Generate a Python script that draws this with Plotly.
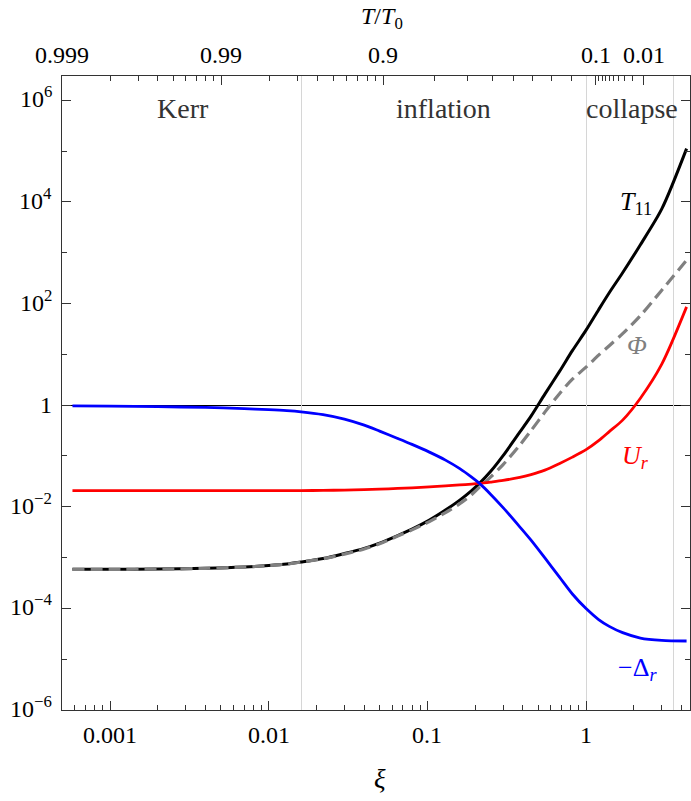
import numpy as np
import plotly.graph_objects as go

# ---------------- data ----------------
xi = [0.00058, 0.001, 0.002, 0.004, 0.007, 0.01, 0.013, 0.016, 0.022, 0.03, 0.04, 0.05,
      0.065, 0.08, 0.103, 0.13, 0.16, 0.19, 0.213, 0.25, 0.3, 0.382, 0.45, 0.55, 0.682,
      0.82, 1.0, 1.2, 1.4, 1.7, 2.2, 3.0, 4.3]

minus_delta_r = [0.968, 0.955, 0.934, 0.901, 0.853, 0.815, 0.779, 0.738, 0.650, 0.531, 0.404, 0.308,
                 0.221, 0.169, 0.119, 0.0828, 0.0563, 0.0383, 0.0288, 0.0177, 0.00962, 0.00403, 0.00220,
                 9.82e-4, 4.07e-4, 1.92e-4, 9.9e-5, 6.03e-5, 4.43e-5, 3.33e-5, 2.61e-5, 2.35e-5, 2.28e-5]

u_r = [0.0208, 0.0208, 0.0208, 0.0208, 0.0208, 0.0208, 0.0208, 0.0208, 0.0210, 0.0213, 0.0218, 0.0222,
       0.0230, 0.0236, 0.0247, 0.0257, 0.0269, 0.0279, 0.0288, 0.0306, 0.0330, 0.0378, 0.0430,
       0.0526, 0.0713, 0.0948, 0.133, 0.200, 0.301, 0.507, 1.37, 6.41, 85.9]

t11 = [5.86e-4, 5.86e-4, 5.94e-4, 6.13e-4, 6.50e-4, 6.95e-4, 7.44e-4, 8.15e-4, 9.55e-4, 1.20e-3, 1.52e-3, 1.93e-3,
       2.71e-3, 3.63e-3, 5.47e-3, 8.60e-3, 0.0135, 0.0208, 0.0288, 0.0492, 0.1014, 0.294, 0.608,
       1.65, 4.67, 11.8, 29.9, 75.7, 163.0, 404.0, 1438.0, 7278.0, 1.12e5]

phi = [5.86e-4, 5.86e-4, 5.94e-4, 6.13e-4, 6.50e-4, 6.95e-4, 7.44e-4, 8.12e-4, 9.46e-4, 1.17e-3, 1.47e-3, 1.87e-3,
       2.65e-3, 3.51e-3, 5.11e-3, 7.68e-3, 0.0115, 0.0173, 0.0244, 0.0383, 0.0675, 0.163, 0.315,
       0.728, 1.70, 3.25, 5.59, 9.63, 14.8, 25.5, 57.7, 183.0, 713.0]

# axis ticks
x_major = [0.001, 0.01, 0.1, 1]
x_major_text = ["0.001", "0.01", "0.1", "1"]
y_major_exp = [-6, -4, -2, 0, 2, 4, 6]
y_minor_exp = [-5, -3, -1, 1, 3, 5]
# top axis: T/T0 = exp(-2 xi)
t_major = [0.999, 0.99, 0.9, 0.1, 0.01]
t_major_text = ["0.999", "0.99", "0.9", "0.1", "0.01"]
t_minor = [0.998, 0.997, 0.996, 0.995, 0.994, 0.993, 0.992, 0.991,
           0.98, 0.97, 0.96, 0.95, 0.94, 0.93, 0.92, 0.91,
           0.8, 0.7, 0.6, 0.5, 0.4, 0.3, 0.2,
           0.09, 0.08, 0.07, 0.06, 0.05, 0.04, 0.03, 0.02]
region_bounds = [0.016, 1.0, 3.55]
region_labels = ["Kerr", "inflation", "collapse"]
region_centres = [0.00287, 0.127, 1.94]

# ---------------- figure ----------------
FONT = "Times New Roman"
XR = [-3.3025, 0.655]
YR = [-6, 6.478]

fig = go.Figure()

line_common = dict(shape="spline", smoothing=0.8)
fig.add_trace(go.Scatter(x=xi, y=t11, mode="lines", line=dict(color="black", width=3, **line_common),
                         hoverinfo="skip", showlegend=False))
fig.add_trace(go.Scatter(x=xi, y=phi, mode="lines",
                         line=dict(color="#808080", width=3.2, dash="12px,6px", **line_common),
                         hoverinfo="skip", showlegend=False))
fig.add_trace(go.Scatter(x=xi, y=u_r, mode="lines", line=dict(color="#ff0000", width=2.8, **line_common),
                         hoverinfo="skip", showlegend=False))
fig.add_trace(go.Scatter(x=xi, y=minus_delta_r, mode="lines",
                         line=dict(color="#0000ff", width=2.8, **line_common),
                         hoverinfo="skip", showlegend=False))

# invisible traces binding the overlay axes (minor ticks, grid lines)
for xa, ya in [("x2", "y"), ("x3", "y"), ("x4", "y"), ("x5", "y"), ("x", "y2"), ("x", "y3")]:
    fig.add_trace(go.Scatter(x=[0.01], y=[1], xaxis=xa, yaxis=ya, mode="markers",
                             marker=dict(opacity=0), hoverinfo="skip", showlegend=False))

common_x = dict(type="log", range=XR, showgrid=False, zeroline=False, automargin=False)

t_major_xi = [-np.log(t) / 2 for t in t_major]
t_minor_xi = [-np.log(t) / 2 for t in t_minor]
x_minor = [m * 10.0 ** e for e in range(-4, 1) for m in range(2, 10)]
x_minor = [v for v in x_minor if 10 ** XR[0] < v < 10 ** XR[1]]

fig.update_layout(
    width=691, height=801,
    margin=dict(l=62, r=1, t=76, b=91),
    paper_bgcolor="white", plot_bgcolor="white",
    font=dict(family=FONT, size=24, color="black"),
    xaxis=dict(**common_x, tickmode="array", tickvals=x_major,
               ticks="inside", ticklen=9, tickwidth=1, tickcolor="#333",
               showline=True, linecolor="#333", linewidth=1, mirror=False, showticklabels=False),
    xaxis3=dict(**common_x, overlaying="x", side="bottom", anchor="y", tickmode="array",
                tickvals=x_minor, ticks="inside", ticklen=5, tickwidth=1, tickcolor="#333",
                showticklabels=False, showline=False),
    xaxis2=dict(**common_x, overlaying="x", side="top", anchor="y", tickmode="array",
                tickvals=t_major_xi, ticks="inside", ticklen=9, tickwidth=1, tickcolor="#333",
                showline=True, linecolor="#333", linewidth=1, showticklabels=False),
    xaxis4=dict(**common_x, overlaying="x", side="top", anchor="y", tickmode="array",
                tickvals=t_minor_xi, ticks="inside", ticklen=5, tickwidth=1, tickcolor="#333",
                showticklabels=False, showline=False),
    xaxis5=dict(type="log", range=XR, overlaying="x", side="bottom", anchor="y", tickmode="array",
                tickvals=region_bounds, showgrid=True, gridcolor="#d6d6d6", gridwidth=1,
                showticklabels=False, ticks="", showline=False, zeroline=False),
    yaxis=dict(type="log", range=YR, showgrid=False, zeroline=False, tickmode="array",
               tickvals=[10.0 ** e for e in y_major_exp], automargin=False,
               ticks="inside", ticklen=9, tickwidth=1, tickcolor="#333",
               showline=True, linecolor="#333", linewidth=1, mirror="ticks", showticklabels=False),
    yaxis2=dict(type="log", range=YR, overlaying="y", side="left", anchor="x", tickmode="array",
                tickvals=[10.0 ** e for e in y_minor_exp], ticks="inside", ticklen=5, tickwidth=1,
                tickcolor="#333", showticklabels=False, showline=False, showgrid=False,
                zeroline=False, mirror="ticks"),
    yaxis3=dict(type="log", range=YR, overlaying="y", side="left", anchor="x", tickmode="array",
                tickvals=[1.0], showgrid=True, gridcolor="black", gridwidth=1,
                showticklabels=False, ticks="", showline=False, zeroline=False),
)

PLOT_H = 801 - 76 - 91


def px(xv):
    return (np.log10(xv) - XR[0]) / (XR[1] - XR[0])


def py(yv):
    return (np.log10(yv) - YR[0]) / (YR[1] - YR[0])


def txt(x, y, text, size=24, color="black", xanchor="center", yanchor="middle", yshift=0):
    fig.add_annotation(x=x, y=y, xref="paper", yref="paper", text=text, showarrow=False,
                       xanchor=xanchor, yanchor=yanchor, yshift=yshift,
                       font=dict(family=FONT, size=size, color=color))


# tick labels (text annotations)
for v, lab in zip(x_major, x_major_text):
    txt(px(v), -25 / PLOT_H, lab)
for v, lab in zip(t_major_xi, t_major_text):
    txt(px(v), 1 + 20.5 / PLOT_H, lab)
for e in y_major_exp:
    lab = "1" if e == 0 else ("10<sup>%d</sup>" % e).replace("-", "−")
    txt(-8 / 628, py(10.0 ** e), lab, xanchor="right", yshift=(0 if e == 0 else 3))

# axis titles
txt(px(10 ** -1.3), -69 / PLOT_H, "<i>ξ</i>", size=27)
txt(px(10 ** -1.285), 1 + 76 / PLOT_H, "<i>T</i>/<i>T</i><sub>0</sub>", size=24, yanchor="top", yshift=-1)

for lab, xc in zip(region_labels, region_centres):
    txt(px(xc), py(10 ** 5.84), lab, size=28, color="#333")

curve_labels = [
    ("<i>T</i><sub>11</sub>", 2.06, 10 ** 3.97, "black"),
    ("<i>Φ</i>", 2.08, 10 ** 1.18, "#808080"),
    ("<i>U</i><sub><i>r</i></sub>", 2.06, 10 ** -1.02, "#ff0000"),
    ("−Δ<sub><i>r</i></sub>", 2.12, 10 ** -5.2, "#0000ff"),
]
for t, xv, yv, col in curve_labels:
    txt(px(xv), py(yv), t, size=26, color=col)

fig.write_html("out.html")
